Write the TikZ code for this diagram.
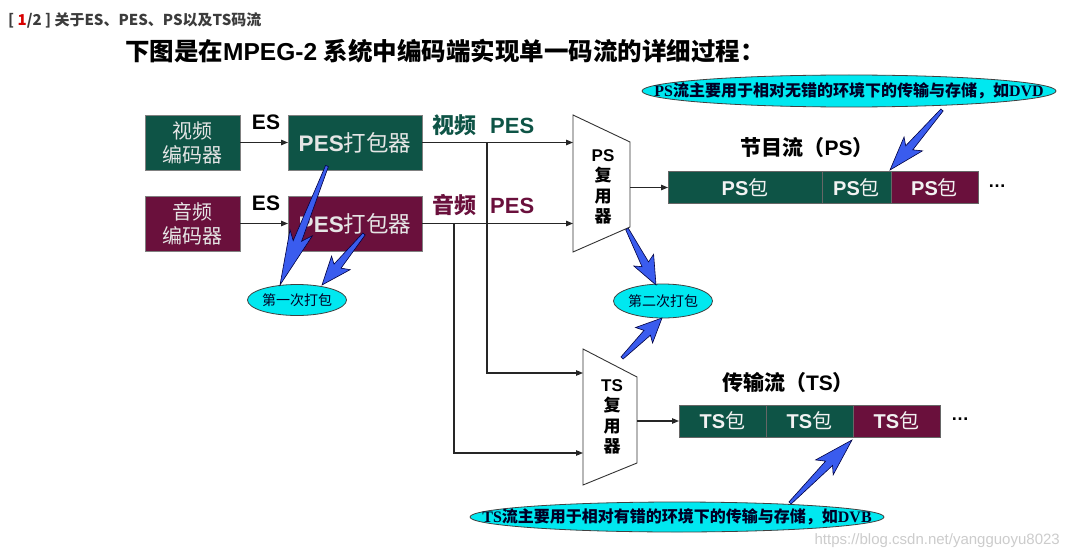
\documentclass[tikz,border=0pt]{standalone}
\usepackage{fontspec}
\setmainfont{Liberation Sans}
\newfontfamily\cjk{Noto Sans CJK SC}
\newfontfamily\tms{Liberation Serif}
\usetikzlibrary{calc,shapes.geometric,arrows.meta}
\definecolor{teal0}{RGB}{14,84,70}
\definecolor{maroon0}{RGB}{106,16,60}
\definecolor{cyan0}{RGB}{0,232,240}
\definecolor{bolt0}{RGB}{58,92,238}
\definecolor{hdr}{RGB}{60,60,60}
\newcommand\boltarrow[2]{%
  \filldraw[boltst] ($(#1)!1.5pt!90:(#2)$) -- ($(#1)!.62!(#2)!4pt!90:(#2)$) -- ($(#1)!.55!(#2)!12pt!90:(#2)$) -- (#2) -- ($(#1)!.57!(#2)!11pt!-90:(#2)$) -- ($(#1)!.64!(#2)!4pt!-90:(#2)$) -- ($(#1)!1.5pt!-90:(#2)$) -- cycle;}
\begin{document}
\begin{tikzpicture}[x=1pt,y=-1pt,
  conn/.style={draw=black!85, line width=1.1pt, -{Triangle[length=7pt,width=5.5pt]}},
  box/.style={draw=black!50, line width=0.6pt, inner sep=0pt, outer sep=0pt, align=center, text=white!90!black},
  encbox/.style={box, minimum width=95pt, minimum height=55pt, font=\cjk\fontsize{20}{24}\selectfont},
  pesbox/.style={box, minimum width=134pt, minimum height=55pt, font=\fontsize{22.5}{24}\selectfont},
  muxst/.style={draw=black!80, line width=0.9pt, fill=white},
  muxnode/.style={inner sep=0pt, outer sep=0pt, align=center, font=\fontsize{17}{20.5}\selectfont\bfseries},
  pkt/.style={draw=black!60, line width=0.8pt, inner sep=0pt, outer sep=0pt, text=white!95!black, minimum height=32pt, font=\fontsize{20}{20}\selectfont},
  oval/.style={ellipse, draw=black!75, line width=0.8pt, fill=cyan0, inner sep=0pt, text=black!85!blue},
  ovaltext/.style={inner sep=0pt, text=black!85!blue, font=\fontsize{16}{16}\selectfont\bfseries},
  boltst/.style={fill=bolt0, draw=blue!25!black, line width=0.6pt},
  lbl/.style={inner sep=0pt, font=\fontsize{21}{21}\selectfont\bfseries}
]
\fill[white] (0,0) rectangle (1070,559);
\useasboundingbox (0,0) rectangle (1070,559);

% header and title
\node[anchor=west, inner sep=0pt, text=hdr, font=\cjk\bfseries\fontsize{15}{16}\selectfont] (hdr) at (8,20) {[ \textcolor{red!85!black}{1}/2 ] 关于ES、PES、PS以及TS码流};
\node[anchor=west, inner sep=0pt, font=\fontsize{24.5}{26}\selectfont] (title) at (125,51) {{\cjk\bfseries 下图是在}{\bfseries MPEG-2 }{\cjk\bfseries 系统中编码端实现单一码流的详细过程：}};

% encoders and PES packers
\node[encbox, fill=teal0] (venc) at (192.5,142.5) {视频\\编码器};
\node[encbox, fill=maroon0] (aenc) at (192.5,223.5) {音频\\编码器};
\node[pesbox, fill=teal0] (vpes) at (355,142.5) {{\bfseries PES}{\cjk 打包器}};
\node[pesbox, fill=maroon0] (apes) at (355,223.5) {{\bfseries PES}{\cjk 打包器}};
\draw[conn] (venc) -- (vpes);
\draw[conn] (aenc) -- (apes);
\node[lbl] (es1) at (266,122) {ES};
\node[lbl] (es2) at (266,203) {ES};

\node[anchor=west, inner sep=0pt, text=teal0, font=\fontsize{22}{22}\selectfont\bfseries] (vlab) at (432,125) {{\cjk 视频}\hspace{14pt}PES};
\node[anchor=west, inner sep=0pt, text=maroon0, font=\fontsize{22}{22}\selectfont\bfseries] (alab) at (432,205) {{\cjk 音频}\hspace{14pt}PES};

% PS multiplexer
\node[muxnode] (psmux) at (601.5,183.5) [minimum width=57pt, minimum height=137pt] {};
\draw[muxst] (psmux.north west) -- ($(psmux.north east)+(0,27)$) -- ($(psmux.south east)+(0,-25)$) -- (psmux.south west) -- cycle;
\node[muxnode] (pstxt) at (603,187) {PS\\{\cjk 复}\\{\cjk 用}\\{\cjk 器}};

% TS multiplexer
\node[muxnode] (tsmux) at (610,417) [minimum width=54pt, minimum height=136pt] {};
\draw[muxst] (tsmux.north west) -- ($(tsmux.north east)+(0,28)$) -- ($(tsmux.south east)+(0,-22)$) -- (tsmux.south west) -- cycle;
\node[muxnode] (tstxt) at (612,417) {TS\\{\cjk 复}\\{\cjk 用}\\{\cjk 器}};

% PES wiring
\coordinate (vsplit) at (487,142.5);
\coordinate (asplit) at (454,223.5);
\coordinate (tsin1) at (583,373);
\coordinate (tsin2) at (583,453);
\draw[conn] (vpes.east) -- (vpes.east -| psmux.west);
\draw[conn] (apes.east) -- (apes.east -| psmux.west);
\draw[conn] (vsplit) |- (tsin1);
\draw[conn] (asplit) |- (tsin2);

% PS stream
\node[pkt, fill=teal0, minimum width=154pt] (ps1) at (745,187.5) {{\bfseries PS}{\cjk 包}};
\node[pkt, fill=teal0, minimum width=69pt] (ps2) at (856.5,187.5) {{\bfseries PS}{\cjk 包}};
\node[pkt, fill=maroon0, minimum width=87pt] (ps3) at (934.5,187.5) {{\bfseries PS}{\cjk 包}};
\node[inner sep=0pt, font=\fontsize{18}{18}\selectfont\bfseries] (psdots) at (997,186) {…};
\draw[conn] (psmux.east |- ps1) -- (ps1.west);
\node[inner sep=0pt, font=\fontsize{21}{21}\selectfont] (pslab) at (807,148) {{\cjk\bfseries 节目流（}{\bfseries PS}{\cjk\bfseries ）}};

% TS stream
\node[pkt, fill=teal0, minimum width=87pt] (ts1) at (722.5,421) {{\bfseries TS}{\cjk 包}};
\node[pkt, fill=teal0, minimum width=87pt] (ts2) at (809.5,421) {{\bfseries TS}{\cjk 包}};
\node[pkt, fill=maroon0, minimum width=87pt] (ts3) at (896.5,421) {{\bfseries TS}{\cjk 包}};
\node[inner sep=0pt, font=\fontsize{18}{18}\selectfont\bfseries] (tsdots) at (960,419) {…};
\draw[conn] (tsmux.east |- ts1) -- (ts1.west);
\node[inner sep=0pt, font=\fontsize{21}{21}\selectfont] (tslab) at (788,383) {{\cjk\bfseries 传输流（}{\bfseries TS}{\cjk\bfseries ）}};

% ellipses
\node[oval, minimum width=78pt, minimum height=31pt, font=\cjk\fontsize{14}{14}\selectfont] (e1) at (297,300) {第一次打包};
\node[oval, minimum width=84pt, minimum height=34pt, font=\cjk\fontsize{14}{14}\selectfont] (e2) at (663,301) {第二次打包};
\node[oval, minimum width=414pt, minimum height=32pt] (eps) at (849,91) {};
\node[ovaltext] (epstxt) at (eps.center) {{\tms PS}{\cjk 流主要用于相对无错的环境下的传输与存储，如}{\tms DVD}};
\node[oval, minimum width=414pt, minimum height=30pt] (ets) at (677,517) {};
\node[ovaltext] (etstxt) at (ets.center) {{\tms TS}{\cjk 流主要用于相对有错的环境下的传输与存储，如}{\tms DVB}};

% bolt arrows
\coordinate (b1s) at (327,166); \coordinate (b1t) at (280,285);
\coordinate (b2s) at (364,234); \coordinate (b2t) at (322,285);
\coordinate (b3s) at (627,229); \coordinate (b3t) at (656,285);
\coordinate (b4s) at (622,358); \coordinate (b4t) at (662,318);
\coordinate (b5s) at (942,110); \coordinate (b5t) at (890,170);
\coordinate (b6s) at (790,503); \coordinate (b6t) at (852,440);
\boltarrow{b1s}{b1t}
\boltarrow{b2s}{b2t}
\boltarrow{b3s}{b3t}
\boltarrow{b4s}{b4t}
\boltarrow{b5s}{b5t}
\boltarrow{b6s}{b6t}

% watermark
\node[anchor=east, inner sep=0pt, text=black!20, font=\fontsize{15}{15}\selectfont] (wm) at (1060,541) {https://blog.csdn.net/yangguoyu8023};
\end{tikzpicture}
\end{document}
